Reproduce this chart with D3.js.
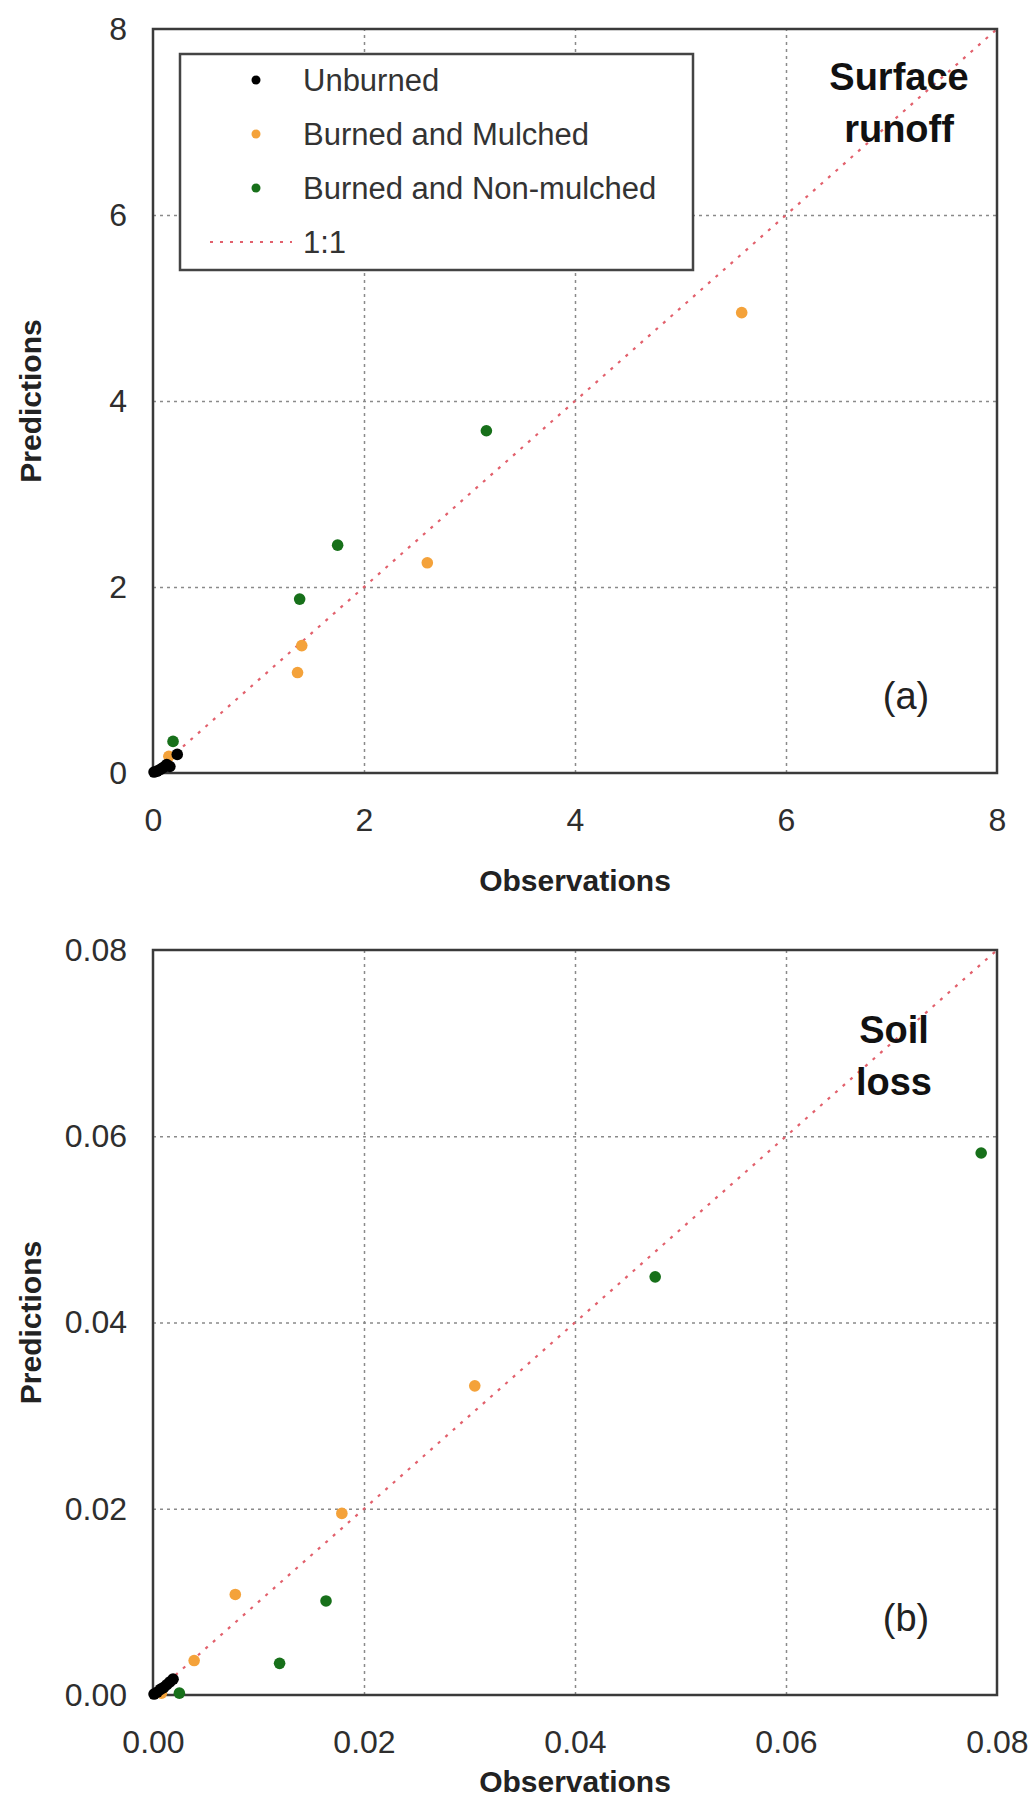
<!DOCTYPE html>
<html>
<head>
<meta charset="utf-8">
<script src="https://cdn.jsdelivr.net/npm/d3@7"></script>
<style>
  body { margin: 0; background: #fff; }
  text { font-family: "Liberation Sans", Arial, sans-serif; }
</style>
</head>
<body>
<script>
//=== Data ===
const seriesNames = ["Unburned", "Burned and Mulched", "Burned and Non-mulched"]
const seriesColors = ["#000000", "#f4a23a", "#17701a"]

// (a) surface runoff
const runoffTicks = [0, 2, 4, 6, 8]
const unburnedRunoffObs  = [0.01, 0.04, 0.07, 0.10, 0.13, 0.16, 0.23]
const unburnedRunoffPred = [0.01, 0.02, 0.04, 0.06, 0.09, 0.07, 0.20]
const mulchedRunoffObs   = [0.15, 1.37, 1.41, 2.60, 5.58]
const mulchedRunoffPred  = [0.18, 1.08, 1.37, 2.26, 4.95]
const nonMulchedRunoffObs  = [0.19, 1.39, 1.75, 3.16]
const nonMulchedRunoffPred = [0.34, 1.87, 2.45, 3.68]

// (b) soil loss
const soilTicks = [0, 0.02, 0.04, 0.06, 0.08]
const unburnedSoilObs  = [0.0001, 0.0004, 0.0007, 0.0010, 0.0013, 0.0016, 0.0019]
const unburnedSoilPred = [0.0001, 0.0003, 0.0006, 0.0008, 0.0011, 0.0014, 0.0017]
const mulchedSoilObs   = [0.0008, 0.0039, 0.0078, 0.0179, 0.0305]
const mulchedSoilPred  = [0.0002, 0.0037, 0.0108, 0.0195, 0.0332]
const nonMulchedSoilObs  = [0.0025, 0.0120, 0.0164, 0.0476, 0.0785]
const nonMulchedSoilPred = [0.0002, 0.0034, 0.0101, 0.0449, 0.0582]

//=== Initialization ===
const left = 153, right = 997
const width = right - left

const svg = d3.select("body").append("svg")
    .attr("width", 1034)
    .attr("height", 1803)

function zip(xs, ys) {
    return xs.map((v, i) => ({ obs: v, pred: ys[i] }))
}

function drawPanel(top, bottom, ticks, fmt, groups, label, tag, titleOffset) {
    const height = bottom - top
    const max = ticks[ticks.length - 1]
    const g = svg.append("g").attr("transform", "translate(" + left + "," + top + ")")

    const x = d3.scaleLinear().domain([0, max]).range([0, width])
    const y = d3.scaleLinear().domain([0, max]).range([height, 0])

    // grid
    g.append("g")
        .attr("transform", "translate(0," + height + ")")
        .call(d3.axisBottom(x).tickValues(ticks.slice(1, -1)).tickSize(-height).tickFormat(""))
        .call(a => a.select(".domain").remove())
    g.append("g")
        .call(d3.axisLeft(y).tickValues(ticks.slice(1, -1)).tickSize(-width).tickFormat(""))
        .call(a => a.select(".domain").remove())
    g.selectAll(".tick line")
        .attr("stroke", "#8a8a8a")
        .attr("stroke-width", 1.5)
        .attr("stroke-dasharray", "3,4")

    // tick labels
    g.append("g")
        .attr("transform", "translate(0," + height + ")")
        .call(d3.axisBottom(x).tickValues(ticks).tickSize(0).tickPadding(35).tickFormat(fmt))
        .call(a => a.select(".domain").remove())
        .selectAll("text").attr("font-size", 32).attr("fill", "#2e2e2e")
    g.append("g")
        .call(d3.axisLeft(y).tickValues(ticks).tickSize(0).tickPadding(26).tickFormat(fmt))
        .call(a => a.select(".domain").remove())
        .selectAll("text").attr("font-size", 32).attr("fill", "#2e2e2e")

    // 1:1 line
    const line = d3.line().x(d => x(d)).y(d => y(d))
    g.append("path")
        .datum([0, max])
        .attr("d", line)
        .attr("fill", "none")
        .attr("stroke", "#e2606c")
        .attr("stroke-width", 2.2)
        .attr("stroke-dasharray", "3,7")

    // frame
    g.append("rect")
        .attr("width", width)
        .attr("height", height)
        .attr("fill", "none")
        .attr("stroke", "#3a3a3a")
        .attr("stroke-width", 2.5)

    // points: mulched, non-mulched, then unburned on top
    ;[1, 2, 0].forEach(k => {
        g.append("g")
            .selectAll("circle")
            .data(groups[k])
            .enter()
            .append("circle")
            .attr("cx", d => x(d.obs))
            .attr("cy", d => y(d.pred))
            .attr("r", 5.8)
            .attr("fill", seriesColors[k])
    })

    // panel name
    g.append("text")
        .attr("text-anchor", "middle")
        .attr("font-size", 38)
        .attr("font-weight", "bold")
        .attr("fill", "#111")
        .selectAll("tspan")
        .data(label.lines)
        .enter()
        .append("tspan")
        .attr("x", label.x)
        .attr("y", (d, i) => label.y + i * 52)
        .text(d => d)

    g.append("text")
        .attr("x", 753)
        .attr("y", height - 64)
        .attr("text-anchor", "middle")
        .attr("font-size", 38)
        .attr("fill", "#222")
        .text(tag)

    // axis titles
    g.append("text")
        .attr("x", width / 2)
        .attr("y", height + titleOffset)
        .attr("text-anchor", "middle")
        .attr("font-size", 30)
        .attr("font-weight", "bold")
        .attr("fill", "#222")
        .text("Observations")
    g.append("text")
        .attr("transform", "translate(" + (30 - left) + "," + (height / 2) + ") rotate(-90)")
        .attr("dy", "0.35em")
        .attr("text-anchor", "middle")
        .attr("font-size", 30)
        .attr("font-weight", "bold")
        .attr("fill", "#222")
        .text("Predictions")

    return { g, x, y }
}

//=== Panel (a) ===
const runoffGroups = [
    zip(unburnedRunoffObs, unburnedRunoffPred),
    zip(mulchedRunoffObs, mulchedRunoffPred),
    zip(nonMulchedRunoffObs, nonMulchedRunoffPred)
]
const top1 = drawPanel(29, 773, runoffTicks, d3.format("d"), runoffGroups,
    { lines: ["Surface", "runoff"], x: 746, y: 61 }, "(a)", 118)

// legend
const lg = top1.g.append("g").attr("transform", "translate(" + (180 - left) + "," + (54 - 29) + ")")
lg.append("rect")
    .attr("width", 513)
    .attr("height", 216)
    .attr("fill", "#fff")
    .attr("stroke", "#444")
    .attr("stroke-width", 2.5)
const rows = lg.selectAll(".row")
    .data(seriesNames.concat(["1:1"]))
    .enter()
    .append("g")
    .attr("class", "row")
    .attr("transform", (d, i) => "translate(0," + (26 + i * 54) + ")")
rows.filter((d, i) => i < 3)
    .append("circle")
    .attr("cx", 76)
    .attr("r", 4.5)
    .attr("fill", (d, i) => seriesColors[i])
rows.filter((d, i) => i === 3)
    .append("line")
    .attr("x1", 30).attr("x2", 112)
    .attr("stroke", "#e2606c")
    .attr("stroke-width", 2.2)
    .attr("stroke-dasharray", "3,7")
rows.append("text")
    .attr("x", 123)
    .attr("dy", "0.35em")
    .attr("font-size", 31)
    .attr("fill", "#333")
    .text(d => d)

//=== Panel (b) ===
const soilGroups = [
    zip(unburnedSoilObs, unburnedSoilPred),
    zip(mulchedSoilObs, mulchedSoilPred),
    zip(nonMulchedSoilObs, nonMulchedSoilPred)
]
drawPanel(950, 1695, soilTicks, d3.format(".2f"), soilGroups,
    { lines: ["Soil", "loss"], x: 741, y: 93 }, "(b)", 97)
</script>
</body>
</html>
